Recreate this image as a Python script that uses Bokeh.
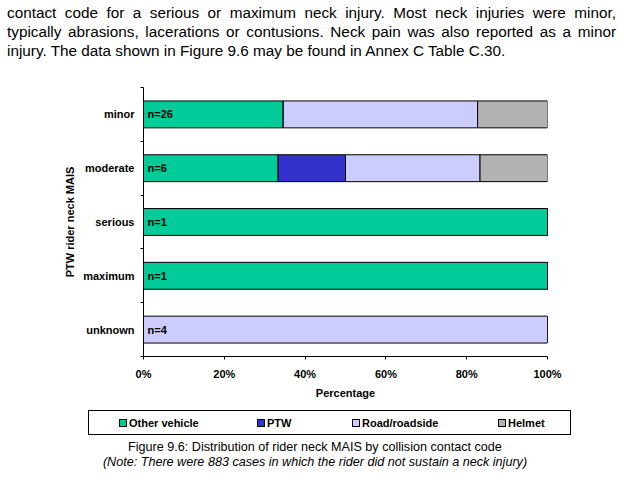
from bokeh.plotting import figure
from bokeh.models import Range1d, FixedTicker, PrintfTickFormatter, ColumnDataSource, Div
from bokeh.layouts import column
from bokeh.core.properties import value
from bokeh.embed import file_html
from bokeh.resources import INLINE

# ---- data ----
categories = ["minor", "moderate", "serious", "maximum", "unknown"]
counts = [26, 6, 1, 1, 4]
other_vehicle = [34.6, 33.3, 100.0, 100.0, 0.0]
ptw = [0.0, 16.7, 0.0, 0.0, 0.0]
road_roadside = [48.1, 33.3, 0.0, 0.0, 100.0]
helmet = [17.3, 16.7, 0.0, 0.0, 0.0]
series_names = ["Other vehicle", "PTW", "Road/roadside", "Helmet"]
series_colors = ["#00CC99", "#3333CC", "#CCCCFF", "#B2B2B2"]
x_ticks = [0, 20, 40, 60, 80, 100]

paragraph_lines = [
    "contact code for a serious or maximum neck injury. Most neck injuries were minor,",
    "typically abrasions, lacerations or contusions. Neck pain was also reported as a minor",
    "injury. The data shown in Figure 9.6 may be found in Annex C Table C.30.",
]
caption_1 = "Figure 9.6: Distribution of rider neck MAIS by collision contact code"
caption_2 = "(Note: There were 883 cases in which the rider did not sustain a neck injury)"

FONT = "Liberation Sans"
n = len(categories)
ys = [n - 0.5 - i for i in range(n)]

src = ColumnDataSource(dict(
    y=ys, cat=categories, nlab=["n=%d" % c for c in counts],
    ov=other_vehicle, ptw=ptw, road=road_roadside, helmet=helmet,
))

# ---- paragraph above the chart ----
html_lines = []
for i, ln in enumerate(paragraph_lines):
    last = "justify" if i < len(paragraph_lines) - 1 else "left"
    html_lines.append(f'<div style="text-align:justify;text-align-last:{last};white-space:nowrap;">{ln}</div>')
para = Div(
    text=('<div style="position:relative;top:4px;width:609px;margin:0 0 0 7px;padding:0;'
          'font-family:\'Liberation Sans\';font-size:15.3px;line-height:18.8px;color:#000;">'
          + "".join(html_lines) + '</div>'),
    width=636, height=70, margin=0)

# ---- chart ----
p = figure(width=636, height=335, x_range=Range1d(0, 100), y_range=Range1d(0, n),
           output_backend="svg", toolbar_location=None,
           min_border_left=143, min_border_right=89, min_border_top=17, min_border_bottom=49)
p.outline_line_color = None
p.xgrid.visible = False
p.ygrid.visible = False
p.background_fill_color = "white"
p.border_fill_color = "white"

renderers = p.hbar_stack(["ov", "ptw", "road", "helmet"], y="y", height=0.5,
                         color=series_colors, line_color="black", line_width=1, source=src)

p.text(x=0, y="y", text="nlab", source=src, x_offset=4, text_baseline="middle",
       text_font=value(FONT), text_font_style="bold", text_font_size="11px", text_color="black")

xa = p.xaxis[0]
xa.ticker = FixedTicker(ticks=x_ticks)
xa.formatter = PrintfTickFormatter(format="%d%%")
xa.major_tick_out = 3
xa.major_tick_in = 0
xa.minor_tick_out = 0
xa.minor_tick_in = 0
xa.axis_line_color = "black"
xa.major_tick_line_color = "black"
xa.major_label_text_font = FONT
xa.major_label_text_font_style = "bold"
xa.major_label_text_font_size = "11px"
xa.major_label_text_color = "black"
xa.major_label_standoff = 8
xa.axis_label = "Percentage"
xa.axis_label_text_font = FONT
xa.axis_label_text_font_style = "bold"
xa.axis_label_text_font_size = "11px"
xa.axis_label_text_color = "black"
xa.axis_label_standoff = 4

ya = p.yaxis[0]
ya.ticker = FixedTicker(ticks=ys, minor_ticks=list(range(n + 1)))
ya.major_label_overrides = {float(y): c for y, c in zip(ys, categories)}
ya.major_tick_out = 0
ya.major_tick_in = 0
ya.minor_tick_out = 3
ya.minor_tick_in = 0
ya.minor_tick_line_color = "black"
ya.axis_line_color = "black"
ya.major_label_text_font = FONT
ya.major_label_text_font_style = "bold"
ya.major_label_text_font_size = "11px"
ya.major_label_text_color = "black"
ya.major_label_standoff = 6
ya.axis_label = "PTW rider neck MAIS"
ya.axis_label_text_font = FONT
ya.axis_label_text_font_style = "bold"
ya.axis_label_text_font_size = "11px"
ya.axis_label_text_color = "black"
ya.axis_label_standoff = 4

# ---- legend box and caption below the chart ----
legend_x = [119, 257, 352, 498]   # swatch left edges (layout only)
items_html = ""
for x, nm, col in zip(legend_x, series_names, series_colors):
    items_html += (
        f'<div style="position:absolute;left:{x}px;top:14px;width:8px;height:8px;box-sizing:border-box;'
        f'border:1px solid #000;background:{col};"></div>'
        f'<div style="position:absolute;left:{x + 10}px;top:12px;line-height:13px;font-size:11px;'
        f'font-weight:bold;white-space:nowrap;">{nm}</div>'
    )
bottom = Div(
    text=('<div style="position:relative;width:636px;height:83px;font-family:\'Liberation Sans\';color:#000;">'
          '<div style="position:absolute;left:88px;top:5px;width:483px;height:25px;box-sizing:border-box;'
          'border:1px solid #000;"></div>' + items_html +
          f'<div style="position:absolute;left:0;top:35px;width:630px;text-align:center;font-size:12.6px;'
          f'line-height:15px;white-space:nowrap;">{caption_1}</div>'
          f'<div style="position:absolute;left:0;top:50px;width:630px;text-align:center;font-size:12.6px;'
          f'line-height:15px;font-style:italic;white-space:nowrap;">{caption_2}</div>'
          '</div>'),
    width=636, height=83, margin=0)

layout = column(para, p, bottom, spacing=0)
open("out.html", "w").write(file_html(layout, INLINE))
